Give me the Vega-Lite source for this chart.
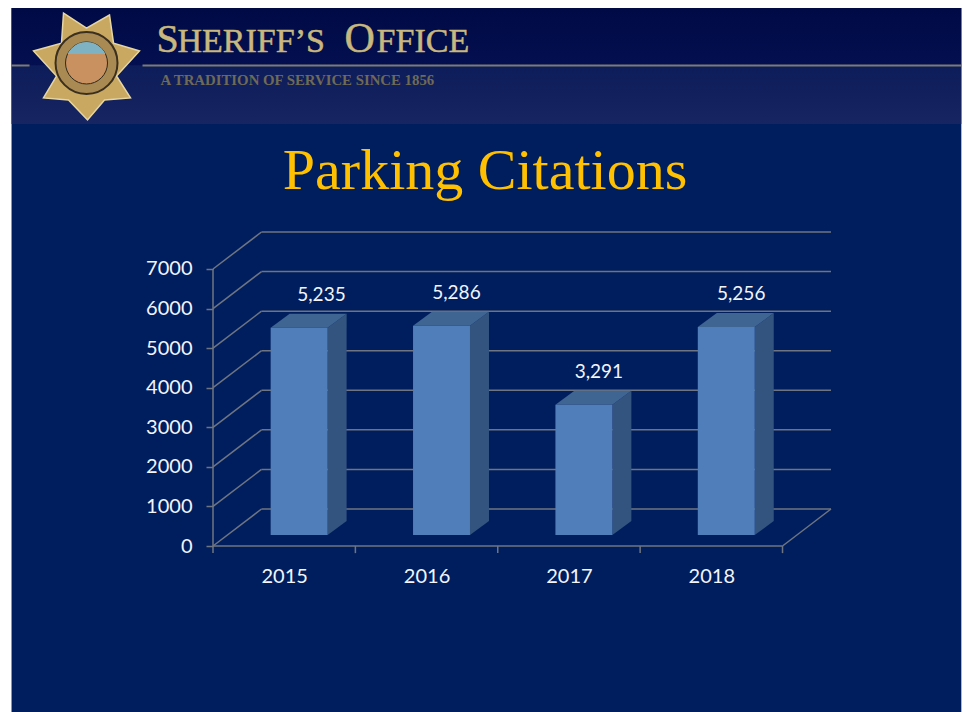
{
"$schema":"https://vega.github.io/schema/vega-lite/v6.json",
"width":618,"height":314,
"autosize":{"type":"none"},
"padding":{"left":213,"top":232,"right":136,"bottom":166},
"background":"#ffffff",
"config":{"view":{"stroke":null}},
"title":{"text":"Parking Citations","font":"Liberation Serif","fontSize":58,"fontWeight":"normal","color":"#FFC000","anchor":"middle","frame":"group","dx":-37,"offset":-239,"baseline":"alphabetic"},
"datasets":{
"bars":[{"year":2015,"value":5235},{"year":2016,"value":5286},{"year":2017,"value":3291},{"year":2018,"value":5256}],
"levels":[{"value":0},{"value":1000},{"value":2000},{"value":3000},{"value":4000},{"value":5000},{"value":6000},{"value":7000}],
"cats":[{"c":0},{"c":1},{"c":2},{"c":3},{"c":4}]
},
"layer":[
{"data":{"values":[{"x":-1.415,"x2":5.256,"y":-4195,"y2":13596}]},
 "mark":{"type":"rect","color":"#001E5E"},
 "encoding":{
  "x":{"field":"x","type":"quantitative","scale":{"domain":[0,4.3406],"nice":false,"zero":false},
   "axis":{"values":[0.5,1.5,2.5,3.5],"labelExpr":"format(2015+floor(datum.value),'d')","title":null,"grid":false,"ticks":false,"domain":false,"labelFont":"Lato","labelFontSize":20,"labelColor":"#F2F5FA","labelPadding":20,"labelFlush":false,"labelOverlap":false,"zindex":1}},
  "x2":{"field":"x2"},
  "y":{"field":"y","type":"quantitative","scale":{"domain":[0,7935],"nice":false,"zero":false},
   "axis":{"values":[0,1000,2000,3000,4000,5000,6000,7000],"format":"d","title":null,"grid":false,"domain":false,"tickSize":7,"tickWidth":1.5,"tickColor":"#6F7580","labelFont":"Lato","labelFontSize":20,"labelColor":"#F2F5FA","labelPadding":14,"labelOverlap":false,"zindex":1}},
  "y2":{"field":"y2"}}},
{"data":{"values":[{"x":-1.415,"x2":5.256,"y":12143,"y2":13596}]},
 "mark":{"type":"rect","color":{"x1":0,"y1":0,"x2":0,"y2":1,"gradient":"linear","stops":[{"offset":0,"color":"#000A45"},{"offset":1,"color":"#030F50"}]}},
 "encoding":{"x":{"field":"x","type":"quantitative"},"x2":{"field":"x2"},"y":{"field":"y","type":"quantitative"},"y2":{"field":"y2"}}},
{"data":{"values":[{"x":-1.415,"x2":5.256,"y":10665,"y2":12143}]},
 "mark":{"type":"rect","color":{"x1":0,"y1":0,"x2":0,"y2":1,"gradient":"linear","stops":[{"offset":0,"color":"#0D1C5A"},{"offset":1,"color":"#172562"}]}},
 "encoding":{"x":{"field":"x","type":"quantitative"},"x2":{"field":"x2"},"y":{"field":"y","type":"quantitative"},"y2":{"field":"y2"}}},
{"data":{"values":[{"x":-1.415,"x2":-1.2886,"y":12143},{"x":-0.4951,"x2":5.256,"y":12143}]},
 "mark":{"type":"rule","color":"#7C7C74","strokeWidth":2},
 "encoding":{"x":{"field":"x","type":"quantitative"},"x2":{"field":"x2"},"y":{"field":"y","type":"quantitative"}}},
{"data":{"values":[{"x":-0.8884,"y":12206}]},
 "mark":{"type":"point","filled":true,"opacity":1,"size":14400,"color":"#C9A961","stroke":"#E6D6A3","strokeWidth":1.5,
  "shape":"M-0.383 -0.833 L0 -0.58 L0.383 -0.8 L0.45 -0.33 L0.883 -0.2 L0.5 0.217 L0.733 0.583 L0.3 0.617 L0.017 0.95 L-0.3 0.617 L-0.717 0.583 L-0.5 0.217 L-0.883 -0.2 L-0.417 -0.33 Z"},
 "encoding":{"x":{"field":"x","type":"quantitative"},"y":{"field":"y","type":"quantitative"}}},
{"data":{"values":[{"x":-0.8884,"y":12206}]},
 "mark":{"type":"point","filled":true,"opacity":1,"size":3844,"shape":"circle","color":"#A98A52","stroke":"#3B2F20","strokeWidth":2},
 "encoding":{"x":{"field":"x","type":"quantitative"},"y":{"field":"y","type":"quantitative"}}},
{"data":{"values":[{"x":-0.8884,"y":12206}]},
 "mark":{"type":"point","filled":true,"opacity":1,"size":1764,"shape":"circle","color":"#C8915F","stroke":"#2F2A1E","strokeWidth":1},
 "encoding":{"x":{"field":"x","type":"quantitative"},"y":{"field":"y","type":"quantitative"}}},
{"data":{"values":[{"x":-0.8884,"y":12206}]},
 "mark":{"type":"point","filled":true,"opacity":1,"size":1764,"color":"#7FB3C4",
  "shape":"M-0.9 -0.43 A1 1 0 0 1 0.9 -0.43 Z"},
 "encoding":{"x":{"field":"x","type":"quantitative"},"y":{"field":"y","type":"quantitative"}}},
{"data":{"values":[{"x":-0.3968,"y":12472,"t":"S"}]},
 "mark":{"type":"text","font":"Liberation Serif","fontSize":40,"color":"#C9B87E","stroke":"#C9B87E","strokeWidth":0.5,"align":"left","baseline":"alphabetic"},
 "encoding":{"x":{"field":"x","type":"quantitative"},"y":{"field":"y","type":"quantitative"},"text":{"field":"t"}}},
{"data":{"values":[{"x":0.9234,"y":12472,"t":"O"}]},
 "mark":{"type":"text","font":"Liberation Serif","fontSize":42,"color":"#C9B87E","stroke":"#C9B87E","strokeWidth":0.5,"align":"left","baseline":"alphabetic"},
 "encoding":{"x":{"field":"x","type":"quantitative"},"y":{"field":"y","type":"quantitative"},"text":{"field":"t"}}},
{"data":{"values":[{"x":-0.2493,"y":12472,"t":"HERIFF’S"},{"x":1.1489,"y":12472,"t":"FFICE"}]},
 "mark":{"type":"text","font":"Liberation Serif","fontSize":34,"color":"#C9B87E","stroke":"#C9B87E","strokeWidth":0.5,"align":"left","baseline":"alphabetic"},
 "encoding":{"x":{"field":"x","type":"quantitative"},"y":{"field":"y","type":"quantitative"},"text":{"field":"t"}}},
{"data":{"values":[{"x":-0.3687,"y":11650,"t":"A TRADITION OF SERVICE SINCE 1856"}]},
 "mark":{"type":"text","font":"Liberation Serif","fontWeight":"bold","fontSize":14.8,"color":"#6F6A55","align":"left","baseline":"alphabetic"},
 "encoding":{"x":{"field":"x","type":"quantitative"},"y":{"field":"y","type":"quantitative"},"text":{"field":"t"}}},
{"data":{"name":"levels"},
 "transform":[{"calculate":"datum.value+935","as":"back"},{"calculate":"0.3406","as":"bx"},{"calculate":"4.3406","as":"ex"}],
 "mark":{"type":"rule","color":"#6F7580","strokeWidth":1.5},
 "encoding":{"x":{"field":"bx","type":"quantitative"},"x2":{"field":"ex"},"y":{"field":"back","type":"quantitative"}}},
{"data":{"name":"levels"},
 "transform":[{"calculate":"datum.value+935","as":"back"},{"calculate":"0","as":"fx"},{"calculate":"0.3406","as":"bx"}],
 "mark":{"type":"rule","color":"#6F7580","strokeWidth":1.5},
 "encoding":{"x":{"field":"fx","type":"quantitative"},"x2":{"field":"bx"},"y":{"field":"value","type":"quantitative"},"y2":{"field":"back"}}},
{"data":{"values":[{"x":0,"x2":0,"y":0,"y2":7000},{"x":0,"x2":4,"y":0,"y2":0},{"x":4,"x2":4.3406,"y":0,"y2":935}]},
 "mark":{"type":"rule","color":"#6F7580","strokeWidth":1.5},
 "encoding":{"x":{"field":"x","type":"quantitative"},"x2":{"field":"x2"},"y":{"field":"y","type":"quantitative"},"y2":{"field":"y2"}}},
{"data":{"name":"cats"},
 "transform":[{"calculate":"0","as":"a"},{"calculate":"-180","as":"b"}],
 "mark":{"type":"rule","color":"#6F7580","strokeWidth":1.5},
 "encoding":{"x":{"field":"c","type":"quantitative"},"y":{"field":"a","type":"quantitative"},"y2":{"field":"b"}}},
{"data":{"name":"bars"},
 "transform":[{"calculate":"[0,1]","as":"t"},{"flatten":["t"]},
  {"calculate":"datum.year-2015+0.805+datum.t*0.1334","as":"sx"},
  {"calculate":"278+datum.t*354","as":"low"},
  {"calculate":"datum.value+278+datum.t*354","as":"high"}],
 "mark":{"type":"area","color":"#345480","orient":"vertical"},
 "encoding":{"x":{"field":"sx","type":"quantitative"},"y":{"field":"low","type":"quantitative","stack":null},"y2":{"field":"high"},"detail":{"field":"year"}}},
{"data":{"name":"bars"},
 "transform":[{"calculate":"[0,1]","as":"t"},{"flatten":["t"]},
  {"calculate":"datum.year-2015+0.405+datum.t*0.1334","as":"lx"},
  {"calculate":"datum.year-2015+0.805+datum.t*0.1334","as":"rx"},
  {"calculate":"datum.value+278+datum.t*354","as":"ty"}],
 "mark":{"type":"area","color":"#3F6593","orient":"horizontal"},
 "encoding":{"x":{"field":"lx","type":"quantitative","stack":null},"x2":{"field":"rx"},"y":{"field":"ty","type":"quantitative"},"detail":{"field":"year"}}},
{"data":{"name":"bars"},
 "transform":[{"calculate":"datum.year-2015+0.405","as":"lx"},{"calculate":"datum.year-2015+0.805","as":"rx"},{"calculate":"278","as":"base"},{"calculate":"datum.value+278","as":"top"}],
 "mark":{"type":"rect","color":"#4F7EBA"},
 "encoding":{"x":{"field":"lx","type":"quantitative"},"x2":{"field":"rx"},"y":{"field":"base","type":"quantitative"},"y2":{"field":"top"}}},
{"data":{"name":"bars"},
 "transform":[{"calculate":"datum.year-2015+(datum.year==2015?0.762:0.71)","as":"lx"},{"calculate":"datum.value+278","as":"top"}],
 "mark":{"type":"text","font":"Lato","fontSize":19,"color":"#F2F5FA","dy":-33,"align":"center","baseline":"middle"},
 "encoding":{"x":{"field":"lx","type":"quantitative"},"y":{"field":"top","type":"quantitative"},"text":{"field":"value","type":"quantitative","format":","}}}
]
}
